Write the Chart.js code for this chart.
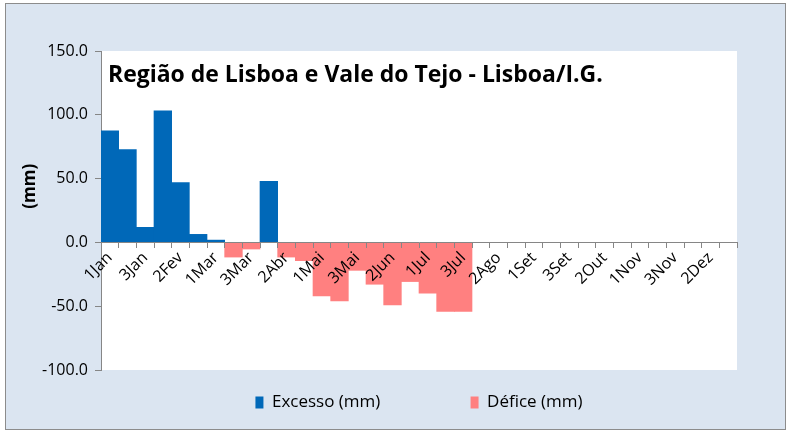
<!DOCTYPE html>
<html>
<head>
<meta charset="utf-8">
<script src="https://cdn.jsdelivr.net/npm/chart.js@4.4.1/dist/chart.umd.min.js"></script>
<style>
  html, body { margin: 0; padding: 0; background: #fff; }
  body { width: 793px; height: 435px; position: relative; overflow: hidden; }
  #box {
    position: absolute; left: 5px; top: 3px; width: 779px; height: 425px;
    background: #dbe5f1; border: 1px solid #8c8c8c;
  }
  canvas { display: block; }
</style>
</head>
<body>
<div id="box"><canvas id="chart" width="779" height="425"></canvas></div>
<script>
const chartTitle = "Região de Lisboa e Vale do Tejo - Lisboa/I.G.";

const decades = [
  "1Jan", "2Jan", "3Jan", "1Fev", "2Fev", "3Fev", "1Mar", "2Mar", "3Mar",
  "1Abr", "2Abr", "3Abr", "1Mai", "2Mai", "3Mai", "1Jun", "2Jun", "3Jun",
  "1Jul", "2Jul", "3Jul", "1Ago", "2Ago", "3Ago", "1Set", "2Set", "3Set",
  "1Out", "2Out", "3Out", "1Nov", "2Nov", "3Nov", "1Dez", "2Dez", "3Dez"
];

// excesso (mm) - positive bars
const excesso = [
  87.5, 72.7, 11.8, 103.1, 46.9, 6.3, 1.8, null, null,
  47.9, null, null, null, null, null, null, null, null,
  null, null, null, null, null, null, null, null, null,
  null, null, null, null, null, null, null, null, null
];

// défice (mm) - negative bars
const defice = [
  null, null, null, null, null, null, null, -11.5, -5.2,
  null, -11.5, -14.3, -42.0, -45.8, -21.9, -32.8, -49.0, -30.7,
  -39.8, -54.1, -54.1, null, null, null, null, null, null,
  null, null, null, null, null, null, null, null, null
];

const yTicks = [-100, -50, 0, 50, 100, 150];

const plotBg = {
  id: "plotBg",
  beforeDraw(chart) {
    const { ctx, chartArea: a } = chart;
    ctx.save();
    ctx.fillStyle = "#ffffff";
    ctx.fillRect(a.left, a.top, a.right - a.left, a.bottom - a.top);
    ctx.restore();
  }
};

// title sits inside the plot area, like in the Excel chart
const innerTitle = {
  id: "innerTitle",
  afterDraw(chart) {
    const { ctx, chartArea: a } = chart;
    ctx.save();
    let size = 24;
    ctx.font = `bold ${size}px "Open Sans", sans-serif`;
    const w = ctx.measureText(chartTitle).width;
    size = size * 495 / w;
    ctx.font = `bold ${size}px "Open Sans", sans-serif`;
    ctx.fillStyle = "#000";
    ctx.textBaseline = "alphabetic";
    ctx.fillText(chartTitle, a.left + 7, a.top + 31);
    ctx.restore();
  }
};

const gray = "#868686";

new Chart(document.getElementById("chart"), {
  type: "bar",
  data: {
    labels: decades,
    datasets: [
      {
        label: "Excesso (mm)" + "\u00a0".repeat(15),
        data: excesso,
        backgroundColor: "#0068b8",
        barPercentage: 1,
        categoryPercentage: 1
      },
      {
        label: "Défice (mm)",
        data: defice,
        backgroundColor: "#ff8080",
        barPercentage: 1,
        categoryPercentage: 1
      }
    ]
  },
  options: {
    responsive: false,
    animation: false,
    layout: { padding: { left: 0, right: 48, top: 47, bottom: 8 } },
    plugins: {
      title: { display: false },
      tooltip: { enabled: false },
      legend: {
        position: "bottom",
        fullSize: false,
        labels: {
          boxWidth: 8,
          boxHeight: 12,
          padding: 24,
          color: "#000",
          font: { family: "'Open Sans', sans-serif", size: 17 }
        }
      }
    },
    scales: {
      x: {
        stacked: true,
        z: 1,
        position: { y: 0 },
        afterFit(scale) { scale.height = 0; },
        grid: {
          offset: true,
          drawOnChartArea: false,
          drawTicks: true,
          tickLength: 5,
          color: gray,
          z: 1
        },
        border: { display: true, color: gray, z: 1 },
        ticks: {
          z: 1,
          autoSkip: false,
          minRotation: 45,
          maxRotation: 45,
          padding: 1,
          color: "#000",
          font: { family: "'Open Sans', sans-serif", size: 16 },
          callback(value, index) {
            return index % 2 === 0 ? decades[index] : "";
          }
        }
      },
      y: {
        stacked: true,
        min: -100,
        max: 150,
        afterFit(scale) { scale.width = 95; },
        afterBuildTicks(scale) {
          scale.ticks = yTicks.map(v => ({ value: v }));
        },
        grid: {
          drawOnChartArea: false,
          drawTicks: true,
          tickLength: 6,
          color: gray
        },
        border: { display: true, color: gray },
        ticks: {
          padding: 7,
          color: "#000",
          font: { family: "'Open Sans', sans-serif", size: 16 },
          callback(value) { return Number(value).toFixed(1); }
        },
        title: {
          display: true,
          // leading spaces lift the label a little, as in the original
          text: "\u00a0".repeat(11) + "(mm)",
          color: "#000",
          padding: { top: 14, bottom: 0 },
          font: { family: "'Open Sans', sans-serif", size: 17, weight: "bold" }
        }
      }
    }
  },
  plugins: [plotBg, innerTitle]
});
</script>
</body>
</html>
